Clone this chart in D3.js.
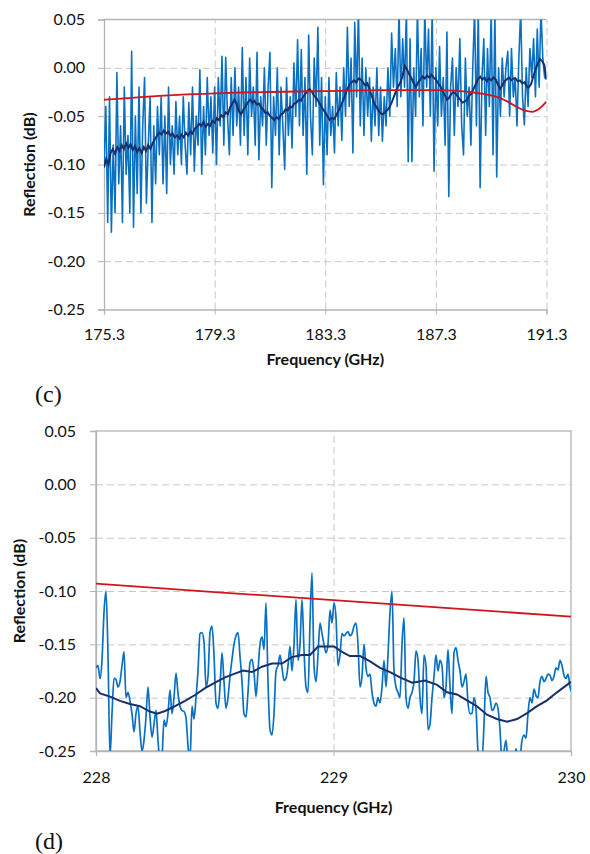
<!DOCTYPE html>
<html>
<head>
<meta charset="utf-8">
<script src="https://cdn.jsdelivr.net/npm/d3@7"></script>
<style>
  body { margin: 0; background: #fff; }
</style>
</head>
<body>
<div id="chart-area"></div>
<script>
// ---------- data ----------
const yTicks = [0.05, 0.00, -0.05, -0.10, -0.15, -0.20, -0.25]
const yTickLabels = ["0.05", "0.00", "-0.05", "-0.10", "-0.15", "-0.20", "-0.25"]

// panel (c)
const freqTicksC = [175.3, 179.3, 183.3, 187.3, 191.3]
const freqTickLabelsC = ["175.3", "179.3", "183.3", "187.3", "191.3"]
const freqRangeC = [175.3, 191.3]
const blueC = [
  -0.10, -0.04, -0.16, -0.03, -0.17, -0.08, -0.15, -0.005, -0.12, -0.06, -0.16, -0.02, -0.11, -0.07, -0.15,
  0.017, -0.165, -0.05, -0.13, -0.02, -0.15, -0.06, -0.01, -0.14, -0.08, -0.03, -0.16, -0.06, -0.12, -0.04,
  -0.09, -0.03, -0.12, -0.05, -0.13, -0.02, -0.10, -0.06, -0.11, -0.035, -0.09, -0.05, -0.10, -0.03, -0.08,
  -0.11, -0.036, -0.09, -0.02, -0.107, -0.05, -0.08, -0.002, -0.11, -0.04, -0.09, -0.01, -0.07, -0.03, -0.088,
  -0.02, -0.10, -0.01, -0.06, 0.012, -0.08, 0.011, -0.05, -0.09, -0.01, -0.07, 0.0, -0.06, -0.02, -0.08,
  0.021, -0.07, -0.01, -0.09, 0.01, -0.05, -0.02, -0.08, 0.016, -0.095, -0.03, -0.06, 0.0, -0.08, -0.02,
  0.016, -0.124, -0.03, -0.07, 0.0, -0.09, -0.02, -0.06, -0.105, -0.01, -0.07, -0.03, -0.083, 0.005, -0.05,
  0.029, -0.06, 0.019, -0.07, -0.01, -0.11, 0.034, -0.05, -0.09, 0.01, -0.04, 0.042, -0.08, -0.01, -0.121,
  -0.03, -0.09, -0.01, -0.07, -0.04, -0.088, -0.005, -0.06, -0.02, -0.075, 0.0, -0.05, 0.042, -0.04, 0.01,
  -0.088, 0.047, -0.03, 0.06, -0.06, 0.01, -0.07, 0.0, -0.05, -0.01, -0.076, -0.02, -0.06, 0.0, -0.07,
  -0.02, -0.076, -0.03, -0.06, 0.0, -0.05, 0.036, -0.02, 0.02, -0.04, 0.06, -0.03, 0.03, -0.02, 0.06,
  -0.097, 0.03, -0.097, 0.0, -0.05, 0.06, -0.03, 0.02, -0.06, 0.06, -0.02, 0.04, -0.05, 0.06, -0.107,
  0.0, -0.06, 0.022, -0.05, -0.01, -0.08, 0.037, -0.133, -0.02, 0.01, -0.07, 0.0, -0.04, 0.03, -0.06,
  -0.09, 0.01, -0.05, -0.02, -0.08, 0.0, 0.06, -0.06, 0.06, -0.124, -0.01, 0.03, -0.07, 0.02, -0.04,
  0.06, -0.09, 0.06, -0.113, 0.0, -0.05, 0.01, -0.03, 0.0, 0.017, -0.05, 0.02, -0.03, -0.01, -0.06,
  0.01, 0.06, -0.03, -0.059, 0.0, -0.04, 0.02, -0.01, 0.03, -0.03, 0.04, -0.02, 0.06, 0.01, -0.01,
  -0.012
]
// running average, one value every 0.08 GHz
const navyC = [
  -0.103, -0.094, -0.100, -0.088, -0.084, -0.089, -0.082, -0.086, -0.080,
  -0.084, -0.078, -0.083, -0.079, -0.085, -0.081, -0.087, -0.083, -0.088, -0.082, -0.086, -0.080, -0.084,
  -0.078, -0.074, -0.070, -0.067, -0.069, -0.065, -0.068, -0.066, -0.070, -0.068, -0.072, -0.070,
  -0.073, -0.069, -0.072, -0.067, -0.070, -0.066, -0.068, -0.063, -0.061, -0.058, -0.060, -0.056, -0.061,
  -0.058, -0.060, -0.055, -0.057, -0.052, -0.054, -0.049, -0.051, -0.046, -0.048, -0.041, -0.037,
  -0.033, -0.038, -0.045, -0.048, -0.043, -0.040, -0.036, -0.033, -0.036, -0.034, -0.038, -0.037, -0.041,
  -0.043, -0.047, -0.046, -0.050, -0.052, -0.054, -0.051, -0.053, -0.048, -0.047, -0.043, -0.044,
  -0.040, -0.041, -0.037, -0.036, -0.033, -0.034, -0.030, -0.027, -0.024, -0.022, -0.025, -0.029, -0.031,
  -0.035, -0.039, -0.043, -0.046, -0.050, -0.054, -0.052, -0.053, -0.049, -0.044, -0.040, -0.034,
  -0.028, -0.022, -0.017, -0.015, -0.013, -0.015, -0.011, -0.012, -0.015, -0.018, -0.016, -0.022, -0.029,
  -0.036, -0.040, -0.044, -0.047, -0.048, -0.046, -0.044, -0.041, -0.036, -0.030, -0.024, -0.019,
  -0.015, -0.008, 0.002, -0.002, -0.007, -0.011, -0.016, -0.020, -0.015, -0.012, -0.009, -0.011, -0.008,
  -0.010, -0.007, -0.010, -0.012, -0.016, -0.019, -0.024, -0.028, -0.033, -0.031, -0.027, -0.025,
  -0.027, -0.030, -0.033, -0.036, -0.035, -0.033, -0.029, -0.027, -0.022, -0.017, -0.012, -0.009, -0.012,
  -0.010, -0.014, -0.011, -0.013, -0.010, -0.012, -0.017, -0.022, -0.018, -0.014, -0.012, -0.010,
  -0.013, -0.011, -0.011, -0.014, -0.013, -0.016, -0.015, -0.019, -0.020, -0.017, -0.009, -0.002, 0.004,
  0.009, 0.007, 0.003, -0.012
]
const redCFreq = [175.3, 176.3, 177.3, 178.3, 179.3, 180.3, 181.3, 182.3, 183.3, 184.3, 185.3, 186.3, 187.3,
  188.0, 188.5, 189.0, 189.5, 189.9, 190.2, 190.5, 190.8, 191.0, 191.3]
const redCVal = [-0.033, -0.031, -0.029, -0.0275, -0.0265, -0.0255, -0.025, -0.0245, -0.024, -0.0235,
  -0.023, -0.023, -0.023, -0.0235, -0.025, -0.027, -0.030, -0.035, -0.040, -0.044, -0.0455, -0.043, -0.035]

// panel (d)
const freqTicksD = [228, 229, 230]
const freqTickLabelsD = ["228", "229", "230"]
const freqRangeD = [228, 230]
const blueDStep = 2 / 237.5
const blueD = [
  -0.172, -0.170, -0.182, -0.165, -0.120, -0.100, -0.160, -0.255, -0.215, -0.182,
  -0.183, -0.190, -0.185, -0.170, -0.157, -0.200, -0.195, -0.203, -0.215, -0.232,
  -0.215, -0.208, -0.232, -0.250, -0.240, -0.218, -0.190, -0.218, -0.237, -0.225,
  -0.212, -0.240, -0.260, -0.255, -0.221, -0.227, -0.215, -0.193, -0.215, -0.200,
  -0.177, -0.196, -0.208, -0.212, -0.213, -0.219, -0.245, -0.260, -0.208, -0.220,
  -0.200, -0.175, -0.140, -0.139, -0.148, -0.190, -0.180, -0.139, -0.133, -0.160,
  -0.205, -0.210, -0.190, -0.158, -0.185, -0.210, -0.200, -0.180, -0.164, -0.150,
  -0.142, -0.139, -0.161, -0.185, -0.215, -0.218, -0.195, -0.167, -0.164, -0.176,
  -0.199, -0.175, -0.150, -0.143, -0.155, -0.111, -0.185, -0.230, -0.235, -0.215,
  -0.175, -0.170, -0.160, -0.172, -0.184, -0.182, -0.170, -0.152, -0.175, -0.150,
  -0.108, -0.165, -0.150, -0.108, -0.155, -0.190, -0.195, -0.130, -0.083, -0.170,
  -0.185, -0.160, -0.130, -0.140, -0.150, -0.158, -0.150, -0.118, -0.130, -0.111,
  -0.125, -0.170, -0.160, -0.140, -0.142, -0.140, -0.138, -0.142, -0.140, -0.133,
  -0.130, -0.150, -0.190, -0.180, -0.150, -0.172, -0.180, -0.178, -0.195, -0.205,
  -0.208, -0.200, -0.205, -0.190, -0.165, -0.190, -0.160, -0.120, -0.100, -0.175,
  -0.190, -0.195, -0.200, -0.150, -0.125, -0.200, -0.210, -0.200, -0.195, -0.185,
  -0.156, -0.165, -0.200, -0.215, -0.160, -0.170, -0.230, -0.225, -0.200, -0.180,
  -0.160, -0.175, -0.165, -0.170, -0.200, -0.190, -0.155, -0.190, -0.215, -0.158,
  -0.153, -0.165, -0.175, -0.190, -0.185, -0.178, -0.205, -0.215, -0.215, -0.200,
  -0.210, -0.250, -0.258, -0.258, -0.225, -0.180, -0.195, -0.200, -0.212, -0.210,
  -0.205, -0.210, -0.230, -0.260, -0.250, -0.240, -0.258, -0.252, -0.260, -0.258,
  -0.248, -0.255, -0.255, -0.240, -0.235, -0.238, -0.215, -0.200, -0.205, -0.192,
  -0.198, -0.200, -0.185, -0.180, -0.185, -0.182, -0.178, -0.179, -0.184, -0.180,
  -0.172, -0.174, -0.165, -0.170, -0.179, -0.182, -0.178, -0.190, -0.195
]
const navyDFreq = [228.000, 228.017, 228.059, 228.101, 228.143, 228.185, 228.227, 228.257, 228.291, 228.333,
  228.375, 228.417, 228.459, 228.501, 228.543, 228.585, 228.619, 228.657, 228.699, 228.741, 228.783, 228.825,
  228.867, 228.901, 228.935, 228.977, 229.002, 229.036, 229.069, 229.112, 229.154, 229.196, 229.238, 229.280,
  229.331, 229.385, 229.436, 229.478, 229.520, 229.562, 229.604, 229.646, 229.688, 229.731, 229.773, 229.815,
  229.857, 229.899, 229.941, 229.983, 230.000]
const navyDVal = [-0.191, -0.196, -0.199, -0.203, -0.206, -0.208, -0.213, -0.215, -0.2125, -0.208,
  -0.203, -0.1975, -0.191, -0.186, -0.181, -0.1775, -0.1745, -0.176, -0.171, -0.168, -0.168, -0.162,
  -0.160, -0.160, -0.152, -0.152, -0.152, -0.157, -0.161, -0.161, -0.166, -0.172, -0.176, -0.181,
  -0.186, -0.184, -0.188, -0.195, -0.197, -0.2025, -0.208, -0.216, -0.220, -0.2225, -0.220, -0.2145,
  -0.208, -0.2025, -0.195, -0.188, -0.185]
const redDFreq = [228.0, 228.5, 229.0, 229.5, 230.0]
const redDVal = [-0.093, -0.101, -0.1085, -0.1163, -0.124]

// ---------- drawing ----------
const svg = d3.select("#chart-area")
  .append("svg")
  .attr("width", 590)
  .attr("height", 854)

const FONT = "Lato, 'Open Sans', sans-serif"
const GRID = "#c8c8c8"
const AXIS = "#b4b4b4"

function drawPanel(p) {
  const w = p.right - p.left
  const h = p.bottom - p.top

  const x = d3.scaleLinear().domain(p.xDomain).range([0, w])
  const y = d3.scaleLinear().domain([-0.25, 0.05]).range([h, 0])

  const g = svg.append("g").attr("transform", `translate(${p.left}, ${p.top})`)

  // horizontal gridlines
  g.append("g")
    .call(d3.axisLeft(y).tickValues(yTicks.slice(1, 6)).tickSize(-w).tickFormat(""))
    .call(a => a.select(".domain").remove())
    .selectAll("line")
    .attr("stroke", GRID)
    .attr("stroke-dasharray", "7,4")

  // vertical gridlines
  g.append("g")
    .attr("transform", `translate(0, ${h})`)
    .call(d3.axisBottom(x).tickValues(p.gridX).tickSize(-h).tickFormat(""))
    .call(a => a.select(".domain").remove())
    .selectAll("line")
    .attr("stroke", GRID)
    .attr("stroke-dasharray", "7,4")

  // frame
  if (p.fullBox) {
    g.append("rect")
      .attr("width", w).attr("height", h)
      .attr("fill", "none").attr("stroke", AXIS).attr("stroke-width", 1.3)
  } else {
    g.append("line").attr("x1", 0).attr("x2", w).attr("y1", 0).attr("y2", 0)
      .attr("stroke", AXIS).attr("stroke-width", 1.3)
  }

  // y axis
  const yAxis = g.append("g")
    .call(d3.axisLeft(y).tickValues(yTicks).tickSize(6).tickPadding(p.yPad)
      .tickFormat((d, i) => yTickLabels[i]))
  yAxis.select(".domain").attr("stroke", AXIS).attr("stroke-width", 1.3)
  yAxis.selectAll("line").attr("stroke", AXIS)
  yAxis.selectAll("text").attr("font-size", "16px").attr("font-family", FONT).attr("fill", "#111")

  // x axis
  const xAxis = g.append("g")
    .attr("transform", `translate(0, ${h})`)
    .call(d3.axisBottom(x).tickValues(p.xTicks).tickSize(5)
      .tickFormat((d, i) => p.xLabels[i]))
  xAxis.select(".domain").attr("stroke", AXIS).attr("stroke-width", 1.3)
  xAxis.selectAll("line").attr("stroke", AXIS)
  xAxis.selectAll("text").attr("font-size", "16px").attr("font-family", FONT).attr("fill", "#111")
    .attr("y", p.xLabelY).attr("dy", "0.71em")

  // clip to the plot area
  svg.append("clipPath").attr("id", "clip-" + p.name)
    .append("rect").attr("width", w).attr("height", h)
  const plot = g.append("g").attr("clip-path", `url(#clip-${p.name})`)

  const line = d3.line().x(d => x(d[0])).y(d => y(d[1]))

  plot.append("path").datum(p.blue)
    .attr("d", line.curve(p.blueCurve)).attr("fill", "none")
    .attr("stroke", "#0a70c2").attr("stroke-width", p.blueWidth)
    .attr("stroke-linejoin", "round")
  plot.append("path").datum(p.navy)
    .attr("d", line.curve(d3.curveLinear)).attr("fill", "none")
    .attr("stroke", "#172f6b").attr("stroke-width", 2)
  plot.append("path").datum(p.red)
    .attr("d", line.curve(d3.curveMonotoneX)).attr("fill", "none")
    .attr("stroke", "#d0161c").attr("stroke-width", 1.8)

  // axis titles
  g.append("text")
    .attr("x", w / 2)
    .attr("y", h + p.xTitleY)
    .attr("font-family", FONT)
    .attr("font-size", "16px")
    .attr("font-weight", "bold")
    .attr("text-anchor", "middle")
    .attr("fill", "#111")
    .text("Frequency (GHz)")

  g.append("text")
    .attr("x", -(h / 2))
    .attr("y", p.yTitleX - p.left)
    .attr("font-family", FONT)
    .attr("font-size", "16px")
    .attr("font-weight", "bold")
    .attr("text-anchor", "middle")
    .attr("transform", "rotate(-90)")
    .attr("fill", "#111")
    .text("Reflection (dB)")

  // panel tag
  svg.append("text")
    .attr("x", 35)
    .attr("y", p.tagY)
    .attr("font-family", "'Liberation Serif', 'Times New Roman', serif")
    .attr("font-size", "24px")
    .attr("fill", "#111")
    .text(p.tag)
}

const stepC = (freqRangeC[1] - freqRangeC[0]) / (blueC.length - 1)
const navyStepC = (freqRangeC[1] - freqRangeC[0]) / (navyC.length - 1)

drawPanel({
  name: "c", tag: "(c)", tagY: 402,
  left: 104, right: 546.5, top: 19.5, bottom: 309.5,
  xDomain: freqRangeC, xTicks: freqTicksC, xLabels: freqTickLabelsC,
  gridX: freqTicksC.slice(1), fullBox: false,
  yPad: 13, xLabelY: 19, xTitleY: 55.5, yTitleX: 35,
  blue: blueC.map((v, i) => [freqRangeC[0] + i * stepC, v]),
  blueCurve: d3.curveLinear, blueWidth: 1.6,
  navy: navyC.map((v, i) => [freqRangeC[0] + i * navyStepC, v]),
  red: redCFreq.map((f, i) => [f, redCVal[i]])
})

drawPanel({
  name: "d", tag: "(d)", tagY: 849,
  left: 96, right: 571, top: 431, bottom: 751,
  xDomain: freqRangeD, xTicks: freqTicksD, xLabels: freqTickLabelsD,
  gridX: [229], fullBox: true,
  yPad: 14, xLabelY: 20.5, xTitleY: 62, yTitleX: 25,
  blue: blueD.map((v, i) => [freqRangeD[0] + i * blueDStep, v]),
  blueCurve: d3.curveMonotoneX, blueWidth: 1.7,
  navy: navyDFreq.map((f, i) => [f, navyDVal[i]]),
  red: redDFreq.map((f, i) => [f, redDVal[i]])
})
</script>
</body>
</html>
